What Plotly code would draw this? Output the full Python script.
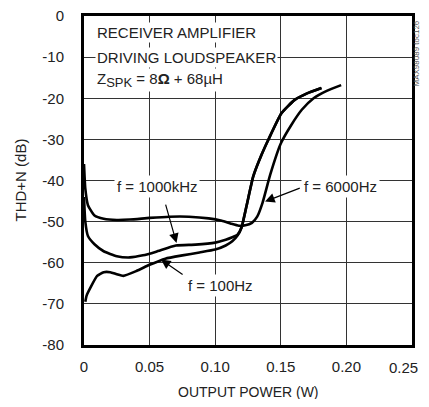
import plotly.graph_objects as go

# ---------------------------------------------------------------------------
# Data (THD+N vs output power)
# ---------------------------------------------------------------------------

p_6000 = [0.0, 0.001, 0.003, 0.008, 0.015, 0.025, 0.035, 0.05, 0.065, 0.08,
          0.095, 0.105, 0.112, 0.118, 0.123, 0.128, 0.132, 0.136, 0.142, 0.15,
          0.158, 0.166, 0.175, 0.185, 0.196]
thd_6000 = [-36, -42, -46, -48.5, -49.3, -49.6, -49.5, -49.1, -48.8, -48.8,
            -49.2, -49.8, -50.5, -51.0, -50.9, -50.3, -48.8, -45.5, -38.5, -31,
            -26.5, -22.8, -20, -18.2, -16.8]

p_1000 = [0.0, 0.001, 0.003, 0.008, 0.015, 0.025, 0.035, 0.045, 0.055, 0.07,
          0.085, 0.1, 0.108, 0.113, 0.117, 0.12, 0.124, 0.129, 0.135, 0.1405,
          0.1506, 0.1606, 0.17, 0.181]
thd_1000 = [-44, -50, -53.5, -55.5, -57.2, -58.4, -58.7, -58.2, -57.3, -55.8,
            -55.6, -55.1, -54.4, -53.8, -53.2, -51.5, -46, -39, -34, -30.1,
            -23.6, -20.4, -18.8, -17.5]

p_100 = [0.001, 0.002, 0.005, 0.01, 0.015, 0.02, 0.025, 0.03, 0.04, 0.05,
         0.062, 0.075, 0.088, 0.1, 0.108, 0.113, 0.117, 0.12, 0.124, 0.129,
         0.135, 0.1405, 0.1506, 0.1606, 0.17, 0.181]
thd_100 = [-69.5, -68, -66, -63.2, -62.3, -62.3, -62.8, -63.2, -62, -60.5,
           -59, -58.2, -57.5, -56.8, -55.8, -54.8, -53.4, -51.5, -46, -39,
           -34, -30.1, -23.6, -20.4, -18.8, -17.5]

x_ticks = [0, 0.05, 0.10, 0.15, 0.20, 0.25]
x_tick_labels = ["0", "0.05", "0.10", "0.15", "0.20", "0.25"]
y_ticks = [0, -10, -20, -30, -40, -50, -60, -70, -80]
y_tick_labels = ["0", "-10", "-20", "-30", "-40", "-50", "-60", "-70", "-80"]

FONT = "Liberation Sans, Arial, sans-serif"
TXT = dict(family=FONT, size=15, color="#222")

fig = go.Figure()

for px_, py_ in [(p_6000, thd_6000), (p_1000, thd_1000), (p_100, thd_100)]:
    fig.add_trace(go.Scatter(
        x=px_, y=py_, mode="lines",
        line=dict(color="black", width=2.6, shape="spline", smoothing=0.5),
        showlegend=False, hoverinfo="skip",
    ))

# Text block in the top-left corner
block = [
    (-4.1, "RECEIVER AMPLIFIER"),
    (-10.2, "DRIVING LOUDSPEAKER"),
    (-15.5, "Z<sub><span style='font-size:13px'>SPK</span></sub> = 8<b>Ω</b> + 68µH"),
]
for yv, txt in block:
    fig.add_annotation(x=0.008, y=yv, text=txt, showarrow=False,
                       xanchor="left", yanchor="middle", font=TXT,
                       bgcolor="white", borderpad=1)

# Curve labels
labels = [
    (0.0559, -41.4, "f = 1000kHz"),
    (0.1952, -41.4, "f = 6000Hz"),
    (0.1042, -65.5, "f = 100Hz"),
]
for xv, yv, txt in labels:
    fig.add_annotation(x=xv, y=yv, text=txt, showarrow=False,
                       xanchor="center", yanchor="middle", font=TXT,
                       bgcolor="white", borderpad=2)

# Arrows (head -> tail)
arrows = [
    (0.0705, -55.2, 0.0619, -45.5),
    (0.0587, -59.2, 0.0763, -63.1),
    (0.138, -45.1, 0.1656, -41.7),
]
for hx, hy, tx, ty in arrows:
    fig.add_annotation(x=hx, y=hy, ax=tx, ay=ty, axref="x", ayref="y",
                       text="", showarrow=True, arrowhead=2, arrowsize=1.6,
                       arrowwidth=1.2, arrowcolor="black")

# last x tick label sits at the page edge; drawn right-aligned so it stays visible
fig.add_annotation(x=1.0, y=0, xref="paper", yref="paper", xshift=8, yshift=-22,
                   text=x_tick_labels[-1], showarrow=False,
                   xanchor="right", yanchor="middle", font=TXT)

# Axis titles
fig.add_annotation(x=0.5, y=0, xref="paper", yref="paper", yshift=-47,
                   text="OUTPUT POWER (W)", showarrow=False,
                   xanchor="center", yanchor="middle",
                   font=dict(family=FONT, size=14, color="#222"))
fig.add_annotation(x=0, y=0.5, xref="paper", yref="paper", xshift=-64,
                   text="THD+N (dB)", showarrow=False, textangle=-90,
                   xanchor="center", yanchor="middle", font=TXT)

# Figure id on the right edge
fig.add_annotation(x=1.0, y=0.886, xref="paper", yref="paper", xshift=5,
                   text="MAX98089 toc126", showarrow=False, textangle=-90,
                   xanchor="center", yanchor="middle",
                   font=dict(family=FONT, size=8, color="#555"))

fig.update_xaxes(
    range=[0, 0.25], tickvals=x_ticks[:-1], ticktext=x_tick_labels[:-1],
    showgrid=True, gridcolor="#333", gridwidth=1, zeroline=False,
    showline=True, linecolor="black", linewidth=3, mirror=True,
    ticks="", ticklabelstandoff=6, tickfont=TXT, automargin=False,
    ticklabeloverflow="allow",
)
fig.update_yaxes(
    range=[-80, 0], tickvals=y_ticks, ticktext=y_tick_labels,
    showgrid=True, gridcolor="#333", gridwidth=1, zeroline=False,
    showline=True, linecolor="black", linewidth=3, mirror=True,
    ticks="", ticklabelstandoff=14, tickfont=TXT, automargin=False,
    ticklabeloverflow="allow",
)

# page body has an 8px margin, so the figure is sized/offset to compensate
fig.update_layout(
    width=421, height=391,
    margin=dict(l=76, r=17, t=8, b=54),
    plot_bgcolor="white", paper_bgcolor="white",
    showlegend=False,
)

fig.write_html("out.html")
